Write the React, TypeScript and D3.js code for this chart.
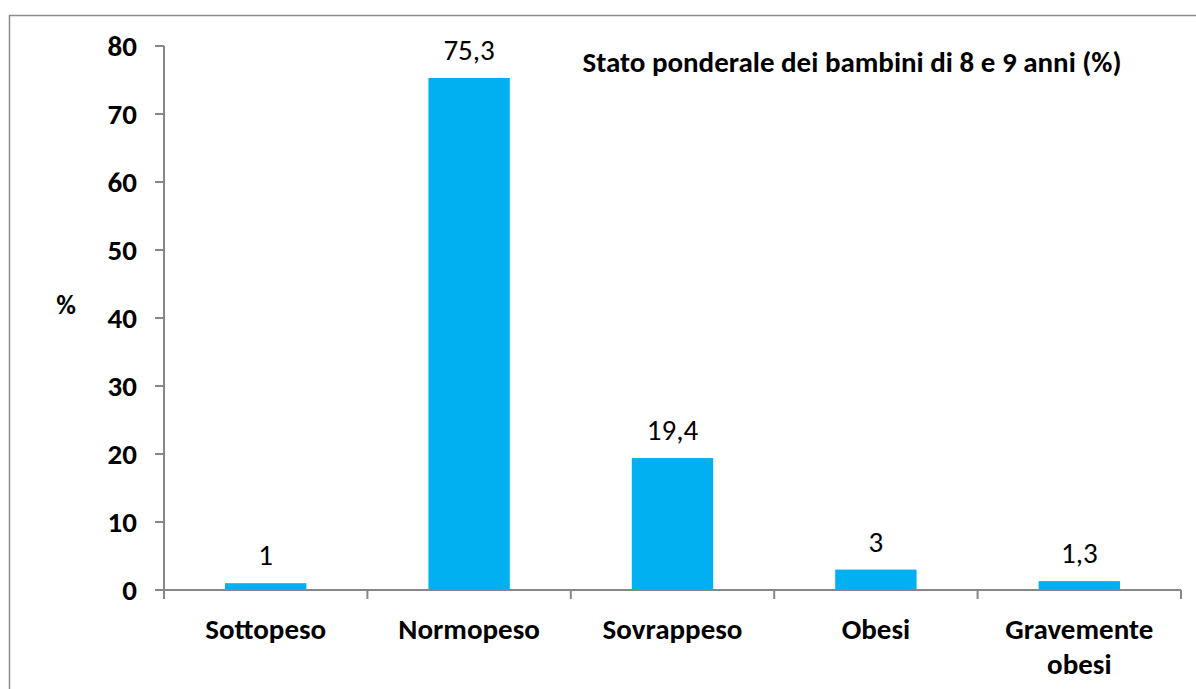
import { useEffect, useRef } from 'react';
import * as d3 from 'd3';

const categories = ['Sottopeso', 'Normopeso', 'Sovrappeso', 'Obesi', 'Gravemente obesi'];
const values = [1, 75.3, 19.4, 3, 1.3];
const valueLabels = ['1', '75,3', '19,4', '3', '1,3'];
const yTicks = [0, 10, 20, 30, 40, 50, 60, 70, 80];
const title = 'Stato ponderale dei bambini di 8 e 9 anni (%)';

const W = 1196;
const H = 689;
const FONT = 'Carlito, Calibri, Lato, sans-serif';
const FS = '29px';

export default function App() {
  const svgRef = useRef<SVGSVGElement>(null);

  useEffect(() => {
    if (!svgRef.current) return;
    const svg = d3.select(svgRef.current);
    svg.selectAll('*').remove();

    const left = 164;
    const right = 1181;
    const top = 46;
    const bottom = 590;

    const x = d3.scaleBand().domain(categories).range([left, right]).paddingInner(0.6).paddingOuter(0.3);
    const xEdge = d3.scaleLinear().domain([0, categories.length]).range([left, right]);
    const y = d3.scaleLinear().domain([0, 80]).range([bottom, top]);

    // outer frame
    svg
      .append('rect')
      .attr('x', 9.5)
      .attr('y', 15.5)
      .attr('width', W + 20)
      .attr('height', H + 20)
      .style('fill', 'none')
      .style('stroke', '#8c8c8c')
      .style('stroke-width', 1.5);

    // bars
    svg
      .selectAll('.bar')
      .data(values)
      .enter()
      .append('rect')
      .attr('x', (_, i) => x(categories[i])!)
      .attr('y', (d) => y(d))
      .attr('width', x.bandwidth())
      .attr('height', (d) => bottom - y(d))
      .style('fill', '#00b0f0');

    // value labels
    svg
      .selectAll('.vlabel')
      .data(values)
      .enter()
      .append('text')
      .attr('x', (_, i) => x(categories[i])! + x.bandwidth() / 2)
      .attr('y', (d) => y(d) - 28)
      .attr('dy', '0.35em')
      .text((_, i) => valueLabels[i])
      .style('text-anchor', 'middle')
      .style('font-family', FONT)
      .style('font-size', FS)
      .style('fill', '#000');

    const axisColor = '#878787';

    // y axis
    svg.append('line').attr('x1', left).attr('x2', left).attr('y1', top).attr('y2', bottom + 8)
      .style('stroke', axisColor).style('stroke-width', 2);
    svg
      .selectAll('.ytick')
      .data(yTicks)
      .enter()
      .append('line')
      .attr('x1', left - 9)
      .attr('x2', left)
      .attr('y1', (d) => y(d))
      .attr('y2', (d) => y(d))
      .style('stroke', axisColor)
      .style('stroke-width', 2);
    svg
      .selectAll('.ylabel')
      .data(yTicks)
      .enter()
      .append('text')
      .attr('x', 137)
      .attr('y', (d) => y(d))
      .attr('dy', '0.35em')
      .text((d) => String(d))
      .style('text-anchor', 'end')
      .style('font-family', FONT)
      .style('font-weight', 'bold')
      .style('font-size', FS);

    svg
      .append('text')
      .attr('x', 66)
      .attr('y', 305)
      .attr('dy', '0.35em')
      .text('%')
      .style('text-anchor', 'middle')
      .style('font-family', FONT)
      .style('font-weight', 'bold')
      .style('font-size', '27px');

    // x axis
    svg.append('line').attr('x1', left - 9).attr('x2', right).attr('y1', bottom).attr('y2', bottom)
      .style('stroke', axisColor).style('stroke-width', 2);
    svg
      .selectAll('.xtick')
      .data(d3.range(categories.length + 1))
      .enter()
      .append('line')
      .attr('x1', (d) => xEdge(d))
      .attr('x2', (d) => xEdge(d))
      .attr('y1', bottom)
      .attr('y2', bottom + 9)
      .style('stroke', axisColor)
      .style('stroke-width', 2);

    const xl = svg
      .selectAll('.xlabel')
      .data(categories)
      .enter()
      .append('text')
      .attr('x', (d) => x(d)! + x.bandwidth() / 2)
      .attr('y', 629)
      .style('text-anchor', 'middle')
      .style('font-family', FONT)
      .style('font-weight', 'bold')
      .style('font-size', FS);
    xl.each(function (d) {
      const words = d === 'Gravemente obesi' ? ['Gravemente', 'obesi'] : [d];
      const t = d3.select(this);
      words.forEach((w, i) => {
        t.append('tspan')
          .attr('x', x(d)! + x.bandwidth() / 2)
          .attr('dy', i === 0 ? '0.35em' : '35px')
          .text(w);
      });
    });

    // title
    svg
      .append('text')
      .attr('x', 852)
      .attr('y', 62)
      .attr('dy', '0.35em')
      .text(title)
      .style('text-anchor', 'middle')
      .style('font-family', FONT)
      .style('font-weight', 'bold')
      .style('font-size', FS);
  }, []);

  return (
    <svg
      ref={svgRef}
      width={W}
      height={H}
      style={{ position: 'absolute', left: 0, top: 0, background: '#fff' }}
    />
  );
}
